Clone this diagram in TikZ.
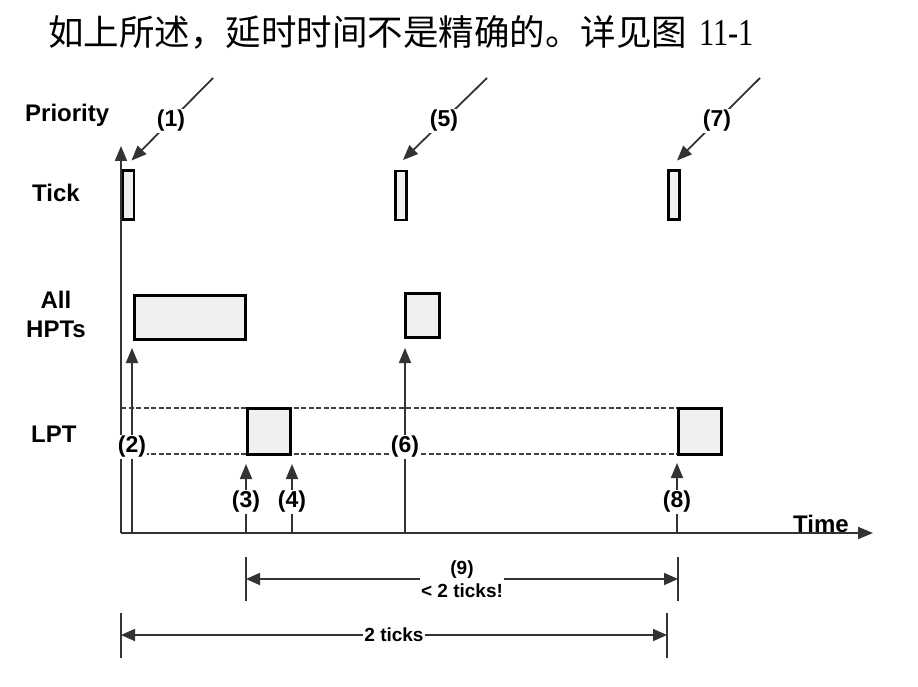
\documentclass[tikz,border=0pt]{standalone}
\usepackage{fontspec}
\usepackage{graphicx}
\setsansfont{Liberation Sans}
\newfontfamily\cjkfont{Noto Sans CJK SC}
\newfontfamily\numfont{Liberation Serif}
\usepackage{tikz}
\usetikzlibrary{arrows.meta, positioning, calc, backgrounds}

\begin{document}
\begin{tikzpicture}[
  x=1pt, y=-1pt,
  lbl/.style={font=\fontsize{24}{29}\selectfont\sffamily\bfseries, inner sep=0pt},
  num/.style={font=\fontsize{23}{27}\selectfont\sffamily\bfseries, fill=white, inner sep=1pt},
  dimlbl/.style={font=\fontsize{19}{23}\selectfont\sffamily\bfseries, fill=white,
                 inner sep=1pt, align=center},
  tickbox/.style={rectangle, draw=black, line width=2.4pt, fill=gray!12,
                  minimum width=11pt, minimum height=49pt, inner sep=0pt, outer sep=0pt},
  job/.style={rectangle, draw=black, line width=3pt, fill=gray!12,
              minimum height=44pt, inner sep=0pt, outer sep=0pt},
  axisline/.style={line width=1.8pt, draw=black!80, -{Triangle[length=15pt, width=12pt]}},
  arr/.style={line width=1.8pt, draw=black!80, -{Triangle[length=15pt, width=12pt]}},
  dimarr/.style={line width=1.8pt, draw=black!80,
                 {Triangle[length=14pt, width=12pt]}-{Triangle[length=14pt, width=12pt]}},
  ext/.style={line width=1.8pt, draw=black!80},
  guide/.style={line width=1.3pt, draw=black!75, dash pattern=on 5pt off 2.5pt}
]
\useasboundingbox (0,0) rectangle (918,687);
%% heading line
\node[anchor=base west, inner sep=0pt] (title) at (48,46)
  {\fontsize{35.5}{40}\selectfont\cjkfont 如上所述，延时时间不是精确的。详见图\hspace{12pt}\scalebox{0.8}[1]{\numfont\fontsize{38}{40}\selectfont 11-1}};
%% row labels
\node[lbl, anchor=base west] (prio) at (25,122) {Priority};
\node[lbl, anchor=base west] (tick) at (32,202) {Tick};
\node[lbl, anchor=north, align=center] (hpts) at (56,291) {All\\HPTs};
\node[lbl, anchor=base west] (lpt)  at (31,442) {LPT};
\node[lbl, anchor=base west] (time) at (793,532) {Time};
%% axes
\coordinate (o)    at (121,533);
\coordinate (ptop) at (121,146);
\coordinate (tend) at (873,533);
\draw[axisline] (o) -- (ptop);
\draw[axisline] (o) -- (tend);
%% instants on the time axis
\coordinate (e_2) at (132,533);
\coordinate (e_3) at (246,533);
\coordinate (e_4) at (292,533);
\coordinate (e_6) at (405,533);
\coordinate (e_8) at (677,533);
%% tick interrupts
\node[tickbox] (tk_1) at (128.5,195) {};
\node[tickbox] (tk_2) at (401,195.5) {};
\node[tickbox] (tk_3) at (674,195) {};
%% high priority tasks
\node[job, minimum width=111pt] (hp_1) at (190,317.5) {};
\node[job, minimum width=34pt]  (hp_2) at (422.5,315.5) {};
%% low priority task
\node[job, minimum width=43pt, minimum height=46pt] (lp_1) at (269,431) {};
\node[job, minimum width=43pt, minimum height=46pt] (lp_2) at (700,431) {};
\coordinate (band_top) at (121,408);
\coordinate (band_bot) at (121,454);
\begin{pgfonlayer}{background}
  \draw[guide] (band_top) -- (lp_2.north west);
  \draw[guide] (band_bot) -- (lp_2.south west);
\end{pgfonlayer}
%% arrows up from the time axis
\draw[arr, shorten >=8.5pt]  (e_2) -- (e_2 |- hp_1.south);
\draw[arr, shorten >=10.5pt] (e_6) -- (e_6 |- hp_2.south);
\draw[arr, shorten >=10pt]   (e_3) -- (e_3 |- lp_1.south);
\draw[arr, shorten >=10pt]   (e_4) -- (e_4 |- lp_1.south);
\draw[arr, shorten >=9pt]    (e_8) -- (e_8 |- lp_2.south);
%% arrows down onto the ticks
\coordinate (m_1) at (213,78);
\coordinate (m_5) at (487,78);
\coordinate (m_7) at (760,78);
\draw[arr] (m_1) -- ($(tk_1.north)+(3,-10)$);
\draw[arr] (m_5) -- ($(tk_2.north)+(2,-11)$);
\draw[arr] (m_7) -- ($(tk_3.north)+(3,-10)$);
%% numbered labels
\node[num] (n_1) at (171,121) {(1)};
\node[num] (n_5) at (444,121) {(5)};
\node[num] (n_7) at (717,121) {(7)};
\node[num] (n_2) at (132,447) {(2)};
\node[num] (n_6) at (405,447) {(6)};
\node[num] (n_3) at (246,502) {(3)};
\node[num] (n_4) at (292,502) {(4)};
\node[num] (n_8) at (677,502) {(8)};
%% spans under the axis
\coordinate (s_9) at (246,579);
\coordinate (f_9) at (678,579);
\draw[ext] ($(s_9)+(0,-22)$) -- ($(s_9)+(0,22)$);
\draw[ext] ($(f_9)+(0,-22)$) -- ($(f_9)+(0,22)$);
\draw[dimarr] (s_9) -- (f_9);
\node[dimlbl] (n_9) at (462,579) {(9)\\< 2 ticks!};
\coordinate (s_t) at (121,635);
\coordinate (f_t) at (667,635);
\draw[ext] ($(s_t)+(0,-22.5)$) -- ($(s_t)+(0,22.5)$);
\draw[ext] ($(f_t)+(0,-22.5)$) -- ($(f_t)+(0,22.5)$);
\draw[dimarr] (s_t) -- (f_t);
\node[dimlbl] (two) at (394,635) {2 ticks};
\end{tikzpicture}
\end{document}
